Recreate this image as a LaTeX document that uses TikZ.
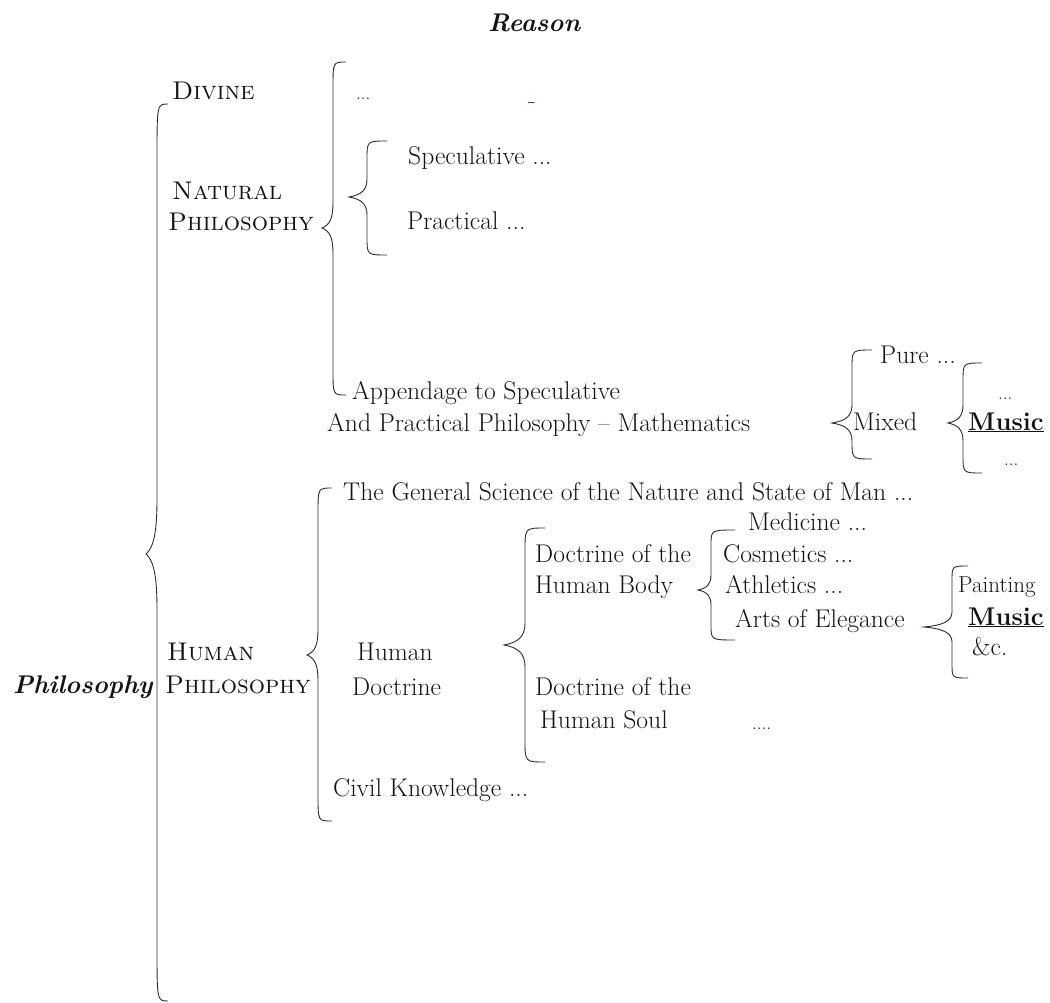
\documentclass[tikz,border=0pt]{standalone}
\usepackage{fontspec}
\usepackage{tikz}
\definecolor{inkgrey}{RGB}{20,20,20}
\definecolor{straymark}{RGB}{135,55,55}
\begin{document}
\begin{tikzpicture}[x=1pt,y=-1pt,
  every node/.style={inner sep=0pt,anchor=base west,text=inkgrey},
  leaf/.style={font=\fontsize{25.6}{32}\selectfont},
  caps/.style={font=\fontsize{25.6}{32}\selectfont\scshape},
  head/.style={font=\fontsize{25.6}{32}\selectfont\bfseries\itshape},
  trail/.style={font=\fontsize{19}{20}\selectfont},
  brc/.style={draw=inkgrey!90,line width=0.9pt}]
\useasboundingbox (0,0) rectangle (1050,1003);

\node[head] (rsn) at (488,32) {Reason};

\node[caps] (div) at (172,100) {Divine};
\node[trail] (divd) at (356,100) {...};
\node[leaf,text=straymark] (mk) at (528,109) {-};
\node[caps] (nat1) at (172,200) {Natural};
\node[caps] (nat2) at (168,231) {Philosophy};
\node[leaf] (spec) at (408,165) {Speculative ...};
\node[leaf] (prac) at (407,230) {Practical ...};
\node[leaf] (app1) at (352,399) {Appendage to Speculative};
\node[leaf] (app2) at (327,431) {And Practical Philosophy -- Mathematics};
\node[leaf] (pure) at (880,363) {Pure ...};
\node[leaf] (mix) at (853,430) {Mixed};
\node[trail] (mxd1) at (998,399) {...};
\node[leaf] (mus1) at (968,430) {\underline{\textbf{Music}}};
\node[trail] (mxd2) at (1004,465) {...};

\node[leaf] (gen) at (343,500) {The General Science of the Nature and State of Man ...};
\node[head] (phil) at (13,693) {Philosophy};
\node[caps] (hum1) at (167,660) {Human};
\node[caps] (hum2) at (165,693) {Philosophy};
\node[leaf] (hd1) at (357,660) {Human};
\node[leaf] (hd2) at (352,695) {Doctrine};
\node[leaf] (bod1) at (535,562) {Doctrine of the};
\node[leaf] (bod2) at (535,593) {Human Body};
\node[leaf] (sou1) at (535,695) {Doctrine of the};
\node[leaf] (sou2) at (540,728) {Human Soul};
\node[trail] (soud) at (752,729) {....};
\node[leaf] (civ) at (333,796) {Civil Knowledge ...};
\node[leaf] (med) at (748,530) {Medicine ...};
\node[leaf] (cos) at (723,562) {Cosmetics ...};
\node[leaf] (ath) at (725,593) {Athletics ...};
\node[leaf] (arts) at (735,627) {Arts of Elegance};
\node[leaf,font=\fontsize{23}{32}\selectfont] (pnt) at (958,592) {Painting};
\node[leaf] (mus2) at (968,625) {\underline{\textbf{Music}}};
\node[leaf] (etc) at (972,655) {\&c.};

\foreach \xv/\xt/\xh/\yt/\ym/\yb/\rad in {157/146/168/104/554/1001/55,
    333/322/346/62/228/395/25, 367/349/387/141/197/255/18,
    852/832/872/350/423/459/18, 963/948/982/363/423/473/18,
    318/307/332/488/655/821/25, 525/504/545/528/645/762/22,
    711/698/735/530/590/640/15, 952/924/968/566/627/678/15}
  \draw[brc] (\xh,\yt) .. controls (\xv,\yt) .. (\xv,\yt+\rad) -- (\xv,\ym-\rad)
    .. controls (\xv,{\ym-0.4*\rad}) and ({\xv-0.3*(\xv-\xt)},{\ym-0.12*\rad}) .. (\xt,\ym)
    .. controls ({\xv-0.3*(\xv-\xt)},{\ym+0.12*\rad}) and (\xv,{\ym+0.4*\rad}) .. (\xv,\ym+\rad)
    -- (\xv,\yb-\rad) .. controls (\xv,\yb) .. (\xh,\yb);
\end{tikzpicture}
\end{document}
